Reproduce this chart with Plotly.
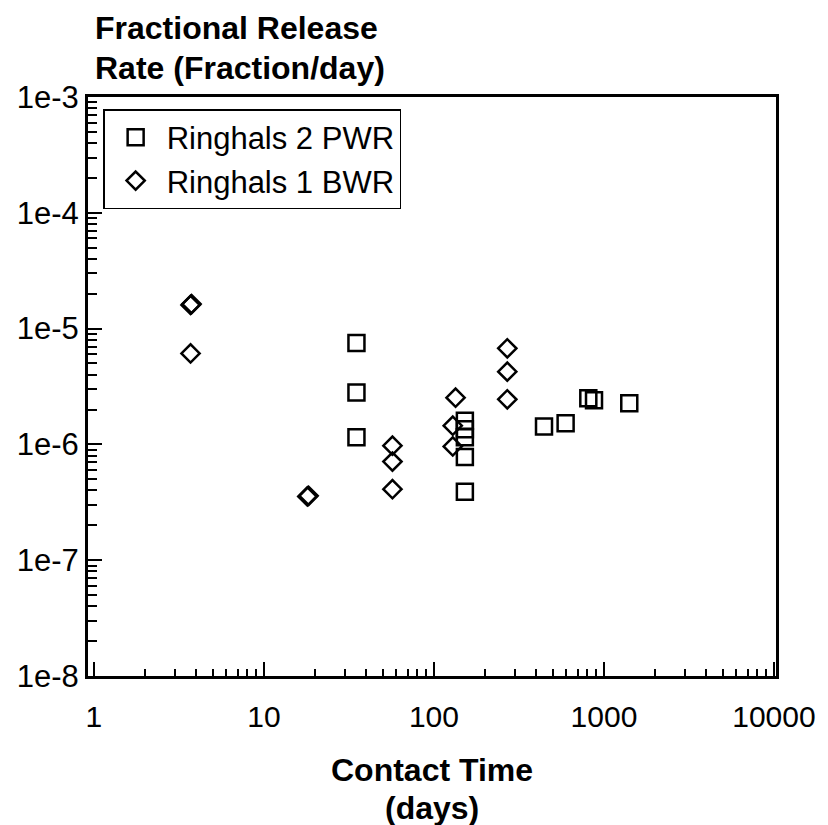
import plotly.graph_objects as go

# Data
pwr_x = [35, 35, 35, 152, 152, 152, 152, 152, 444, 595, 809, 874, 1409]
pwr_y = [7.5e-6, 2.8e-6, 1.15e-6, 1.6e-6, 1.35e-6, 1.15e-6, 7.8e-7, 3.9e-7,
         1.43e-6, 1.52e-6, 2.5e-6, 2.4e-6, 2.27e-6]

bwr_x = [3.7, 3.75, 3.7, 18, 18.3, 57, 57, 57, 134, 129, 129, 270, 270, 270]
bwr_y = [1.6e-5, 1.63e-5, 6.1e-6, 3.55e-7, 3.6e-7, 9.75e-7, 7.1e-7, 4.1e-7,
         2.53e-6, 1.45e-6, 9.6e-7, 6.76e-6, 4.25e-6, 2.45e-6]

x_tickvals = [1, 10, 100, 1000, 10000]
x_ticktext = ["1", "10", "100", "1000", "10000"]
y_tickvals = [1e-8, 1e-7, 1e-6, 1e-5, 1e-4, 1e-3]
y_ticktext = ["1e-8", "1e-7", "1e-6", "1e-5", "1e-4", "1e-3"]

x_minor = [m * d for d in x_tickvals[:-1] for m in range(2, 10)]
y_minor = [m * d for d in y_tickvals[:-1] for m in range(2, 10)]

FONT = "Liberation Sans, Arial, Helvetica, sans-serif"

fig = go.Figure()
fig.add_trace(go.Scatter(
    x=pwr_x, y=pwr_y, mode="markers", name="Ringhals 2 PWR",
    marker=dict(symbol="square-open", size=16, color="black",
                line=dict(width=2.5, color="black")),
))
fig.add_trace(go.Scatter(
    x=bwr_x, y=bwr_y, mode="markers", name="Ringhals 1 BWR",
    marker=dict(symbol="diamond-open", size=14, color="black",
                line=dict(width=2.5, color="black")),
))

fig.update_layout(
    width=828, height=825,
    margin=dict(l=88, r=52, t=97, b=149),
    paper_bgcolor="white", plot_bgcolor="white",
    font=dict(family=FONT, size=30, color="black"),
    showlegend=True,
    legend=dict(
        x=0.022, y=0.979, xanchor="left", yanchor="top",
        bgcolor="white", bordercolor="black", borderwidth=1.5,
        font=dict(size=31, family=FONT, color="black"),
        tracegroupgap=0, itemsizing="trace", itemwidth=52,
    ),
)

fig.update_xaxes(
    type="log", range=[-0.035, 4.012],
    tickvals=x_tickvals, ticktext=x_ticktext,
    ticks="inside", ticklen=14, tickwidth=2, tickcolor="black",
    minor=dict(tickvals=x_minor, ticks="inside", ticklen=7, tickwidth=2,
               tickcolor="black", showgrid=False),
    showline=True, linecolor="black", linewidth=3, mirror=True,
    showgrid=False, zeroline=False,
    ticklabelstandoff=12,
    tickfont=dict(size=30, family=FONT),
)
fig.update_yaxes(
    type="log", range=[-8, -3],
    tickvals=y_tickvals, ticktext=y_ticktext,
    ticks="inside", ticklen=14, tickwidth=2, tickcolor="black",
    minor=dict(tickvals=y_minor, ticks="inside", ticklen=9, tickwidth=2,
               tickcolor="black", showgrid=False),
    showline=True, linecolor="black", linewidth=3, mirror=True,
    showgrid=False, zeroline=False,
    tickfont=dict(size=31, family=FONT),
)

PW, PH = 688, 579


def px_to_paper(px, py):
    return (px - 88) / PW, (676 - py) / PH


for text, (px, py), anchor in [
    ("<b>Fractional Release</b>", (93, 28), "left"),
    ("<b>Rate (Fraction/day)</b>", (93, 68), "left"),
    ("<b>Contact Time</b>", (432, 770), "center"),
    ("<b>(days)</b>", (432, 808), "center"),
]:
    ax, ay = px_to_paper(px, py)
    fig.add_annotation(
        text=text, xref="paper", yref="paper", x=ax, y=ay,
        xanchor=anchor, yanchor="middle", showarrow=False,
        font=dict(size=32, family=FONT, color="black"),
    )

fig.write_html("out.html")
